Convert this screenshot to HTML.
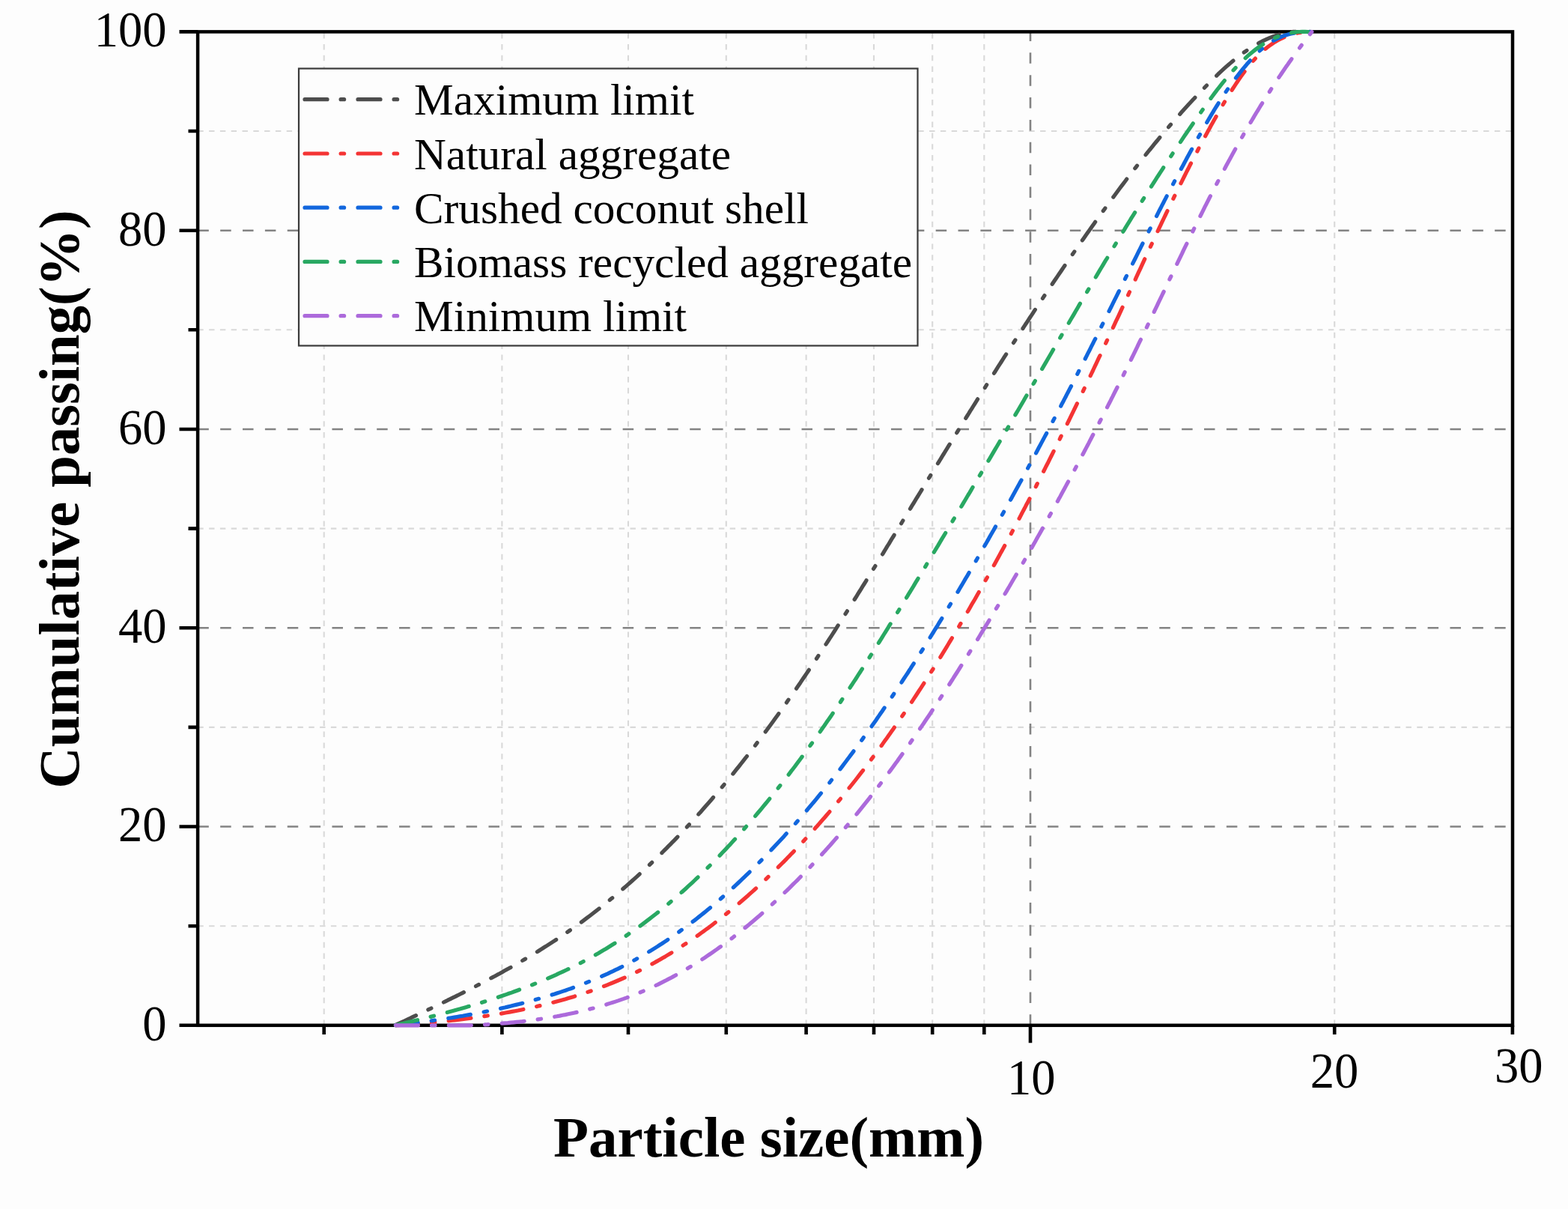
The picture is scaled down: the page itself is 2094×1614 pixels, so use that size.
<!DOCTYPE html><html><head><meta charset="utf-8"><title>Cumulative passing vs particle size</title><style>
html,body{margin:0;padding:0;background:#fdfdfd;}
body{width:2094px;height:1614px;overflow:hidden;position:relative;}
svg{position:absolute;left:0;top:0;filter:blur(0.45px);}
text{font-family:"Liberation Serif","Times New Roman",serif;fill:#000;}
</style></head><body>
<svg width="2094" height="1614" viewBox="0 0 2094 1614">
<rect x="0" y="0" width="2094" height="1614" fill="#fdfdfd"/>
<path d="M264.3,1236.2H2020.0M264.3,970.9H2020.0M264.3,705.6H2020.0M264.3,440.3H2020.0M264.3,175.0H2020.0" stroke="#d9d9d9" stroke-width="2.1" stroke-dasharray="7.4 7.4" fill="none"/>
<path d="M432.7,1368.8V42.4M670.4,1368.8V42.4M839.0,1368.8V42.4M969.8,1368.8V42.4M1076.6,1368.8V42.4M1167.0,1368.8V42.4M1245.2,1368.8V42.4M1314.3,1368.8V42.4M1782.2,1368.8V42.4" stroke="#d9d9d9" stroke-width="2.1" stroke-dasharray="7.4 7.4" fill="none"/>
<path d="M264.3,1103.5H2020.0M264.3,838.2H2020.0M264.3,573.0H2020.0M264.3,307.7H2020.0M1376.0,1368.8V42.4" stroke="#838383" stroke-width="2.6" stroke-dasharray="14.5 15.36" fill="none"/>
<rect x="264.1" y="42.4" width="1755.9" height="1326.4" fill="none" stroke="#000" stroke-width="4.5"/>
<path d="M239.5,1368.8H264.3M239.5,1103.5H264.3M239.5,838.2H264.3M239.5,573.0H264.3M239.5,307.7H264.3M239.5,42.4H264.3M251.5,1236.2H264.3M251.5,970.9H264.3M251.5,705.6H264.3M251.5,440.3H264.3M251.5,175.0H264.3M1376.0,1368.8V1392.3M432.7,1368.8V1381M670.4,1368.8V1381M839.0,1368.8V1381M969.8,1368.8V1381M1076.6,1368.8V1381M1167.0,1368.8V1381M1245.2,1368.8V1381M1314.3,1368.8V1381M1782.2,1368.8V1381M2019.9,1368.8V1381" stroke="#000" stroke-width="4.6" fill="none"/>
<path d="M527.5,1368.8 L530.9,1367.2 L534.3,1365.6 L537.6,1364.1 L541.0,1362.5 L544.4,1360.9 L547.8,1359.3 L551.1,1357.7 L554.5,1356.1 L557.9,1354.5 L561.3,1353.0 L564.6,1351.4 L568.0,1349.8 L571.3,1348.2 L574.7,1346.6 L578.1,1344.9 L581.4,1343.3 L584.8,1341.7 L588.1,1340.1 L591.4,1338.5 L594.8,1336.9 L598.1,1335.2 L601.4,1333.6 L604.8,1331.9 L608.1,1330.3 L611.4,1328.7 L614.7,1327.0 L618.1,1325.3 L621.4,1323.7 L624.7,1322.0 L628.0,1320.3 L631.3,1318.6 L634.5,1317.0 L637.8,1315.3 L641.1,1313.6 L644.4,1311.8 L647.7,1310.1 L650.9,1308.4 L654.2,1306.7 L657.4,1304.9 L660.7,1303.2 L663.9,1301.4 L667.2,1299.7 L670.4,1297.9 L673.6,1296.1 L676.8,1294.3 L680.1,1292.5 L683.3,1290.7 L686.5,1288.9 L689.7,1287.1 L692.9,1285.2 L696.0,1283.4 L699.2,1281.5 L702.4,1279.7 L705.5,1277.8 L708.7,1275.9 L711.8,1274.0 L715.0,1272.1 L718.1,1270.2 L721.2,1268.2 L724.3,1266.3 L727.4,1264.3 L730.5,1262.4 L733.6,1260.4 L736.7,1258.4 L739.8,1256.4 L742.9,1254.4 L745.9,1252.3 L749.0,1250.3 L752.0,1248.2 L755.0,1246.2 L758.1,1244.1 L761.1,1242.0 L764.1,1239.9 L767.1,1237.7 L770.1,1235.6 L773.0,1233.5 L776.0,1231.3 L779.0,1229.1 L781.9,1226.9 L784.9,1224.7 L787.8,1222.5 L790.7,1220.3 L793.6,1218.0 L796.5,1215.7 L799.4,1213.5 L802.3,1211.2 L805.2,1208.9 L808.1,1206.6 L810.9,1204.3 L813.8,1201.9 L816.6,1199.6 L819.5,1197.2 L822.3,1194.9 L825.1,1192.5 L827.9,1190.1 L830.7,1187.7 L833.5,1185.3 L836.3,1182.9 L839.1,1180.4 L841.8,1178.0 L844.6,1175.5 L847.3,1173.1 L850.1,1170.6 L852.8,1168.1 L855.5,1165.6 L858.3,1163.1 L861.0,1160.6 L863.7,1158.1 L866.3,1155.5 L869.0,1153.0 L871.7,1150.4 L874.4,1147.9 L877.0,1145.3 L879.6,1142.7 L882.3,1140.1 L884.9,1137.5 L887.5,1134.9 L890.1,1132.3 L892.7,1129.7 L895.3,1127.1 L897.9,1124.4 L900.5,1121.8 L903.1,1119.1 L905.6,1116.4 L908.2,1113.8 L910.7,1111.1 L913.3,1108.4 L915.8,1105.7 L918.3,1103.0 L920.8,1100.3 L923.3,1097.6 L925.8,1094.8 L928.3,1092.1 L930.8,1089.4 L933.2,1086.6 L935.7,1083.9 L938.2,1081.1 L940.6,1078.3 L943.0,1075.6 L945.5,1072.8 L947.9,1070.0 L950.3,1067.2 L952.7,1064.4 L955.1,1061.6 L957.5,1058.8 L959.9,1056.0 L962.3,1053.1 L964.6,1050.3 L967.0,1047.5 L969.4,1044.6 L971.7,1041.8 L974.0,1038.9 L976.4,1036.0 L978.7,1033.2 L981.0,1030.3 L983.3,1027.4 L985.7,1024.5 L988.0,1021.6 L990.2,1018.7 L992.5,1015.8 L994.8,1012.9 L997.1,1010.0 L999.4,1007.1 L1001.6,1004.2 L1003.9,1001.2 L1006.1,998.3 L1008.4,995.4 L1010.6,992.4 L1012.8,989.5 L1015.1,986.5 L1017.3,983.6 L1019.5,980.6 L1021.7,977.6 L1023.9,974.7 L1026.1,971.7 L1028.3,968.7 L1030.5,965.7 L1032.7,962.7 L1034.8,959.7 L1037.0,956.7 L1039.2,953.7 L1041.3,950.7 L1043.5,947.7 L1045.6,944.7 L1047.8,941.6 L1049.9,938.6 L1052.0,935.6 L1054.2,932.5 L1056.3,929.5 L1058.4,926.5 L1060.5,923.4 L1062.6,920.4 L1064.8,917.3 L1066.9,914.2 L1069.0,911.2 L1071.0,908.1 L1073.1,905.0 L1075.2,902.0 L1077.3,898.9 L1079.4,895.8 L1081.4,892.7 L1083.5,889.6 L1085.6,886.6 L1087.6,883.5 L1089.7,880.4 L1091.7,877.3 L1093.8,874.2 L1095.8,871.1 L1097.9,868.0 L1099.9,864.8 L1101.9,861.7 L1104.0,858.6 L1106.0,855.5 L1108.0,852.4 L1110.0,849.3 L1112.1,846.1 L1114.1,843.0 L1116.1,839.9 L1118.1,836.7 L1120.1,833.6 L1122.1,830.5 L1124.1,827.3 L1126.1,824.2 L1128.1,821.0 L1130.1,817.9 L1132.1,814.7 L1134.1,811.6 L1136.0,808.4 L1138.0,805.3 L1140.0,802.1 L1142.0,799.0 L1144.0,795.8 L1145.9,792.7 L1147.9,789.5 L1149.9,786.3 L1151.8,783.2 L1153.8,780.0 L1155.8,776.8 L1157.7,773.7 L1159.7,770.5 L1161.6,767.3 L1163.6,764.2 L1165.5,761.0 L1167.5,757.8 L1169.5,754.7 L1171.4,751.5 L1173.3,748.3 L1175.3,745.1 L1177.2,742.0 L1179.2,738.8 L1181.1,735.6 L1183.1,732.4 L1185.0,729.2 L1187.0,726.1 L1188.9,722.9 L1190.8,719.7 L1192.8,716.5 L1194.7,713.4 L1196.7,710.2 L1198.6,707.0 L1200.5,703.8 L1202.5,700.6 L1204.4,697.5 L1206.3,694.3 L1208.3,691.1 L1210.2,687.9 L1212.1,684.7 L1214.1,681.6 L1216.0,678.4 L1217.9,675.2 L1219.9,672.0 L1221.8,668.9 L1223.7,665.7 L1225.7,662.5 L1227.6,659.3 L1229.6,656.2 L1231.5,653.0 L1233.4,649.8 L1235.4,646.6 L1237.3,643.5 L1239.2,640.3 L1241.2,637.1 L1243.1,634.0 L1245.1,630.8 L1247.0,627.6 L1248.9,624.5 L1250.9,621.3 L1252.8,618.1 L1254.8,615.0 L1256.7,611.8 L1258.6,608.7 L1260.6,605.5 L1262.5,602.3 L1264.5,599.2 L1266.4,596.0 L1268.4,592.9 L1270.3,589.7 L1272.3,586.5 L1274.2,583.4 L1276.2,580.2 L1278.1,577.1 L1280.1,573.9 L1282.0,570.8 L1284.0,567.6 L1285.9,564.5 L1287.9,561.3 L1289.8,558.2 L1291.8,555.0 L1293.8,551.9 L1295.7,548.7 L1297.7,545.6 L1299.6,542.5 L1301.6,539.3 L1303.6,536.2 L1305.5,533.0 L1307.5,529.9 L1309.5,526.8 L1311.4,523.6 L1313.4,520.5 L1315.4,517.4 L1317.4,514.2 L1319.3,511.1 L1321.3,508.0 L1323.3,504.8 L1325.3,501.7 L1327.3,498.6 L1329.3,495.5 L1331.2,492.3 L1333.2,489.2 L1335.2,486.1 L1337.2,483.0 L1339.2,479.9 L1341.2,476.7 L1343.2,473.6 L1345.2,470.5 L1347.2,467.4 L1349.2,464.3 L1351.2,461.2 L1353.2,458.1 L1355.2,455.0 L1357.2,451.9 L1359.2,448.8 L1361.3,445.7 L1363.3,442.6 L1365.3,439.5 L1367.3,436.4 L1369.3,433.3 L1371.4,430.2 L1373.4,427.1 L1375.4,424.0 L1377.5,420.9 L1379.5,417.8 L1381.5,414.7 L1383.6,411.6 L1385.6,408.6 L1387.7,405.5 L1389.7,402.4 L1391.8,399.3 L1393.8,396.2 L1395.9,393.2 L1397.9,390.1 L1400.0,387.0 L1402.0,383.9 L1404.1,380.9 L1406.2,377.8 L1408.2,374.8 L1410.3,371.7 L1412.4,368.6 L1414.5,365.6 L1416.6,362.5 L1418.6,359.5 L1420.7,356.4 L1422.8,353.3 L1424.9,350.3 L1427.0,347.3 L1429.1,344.2 L1431.2,341.2 L1433.3,338.1 L1435.4,335.1 L1437.5,332.0 L1439.7,329.0 L1441.8,326.0 L1443.9,322.9 L1446.0,319.9 L1448.1,316.9 L1450.3,313.8 L1452.4,310.8 L1454.6,307.8 L1456.7,304.8 L1458.8,301.8 L1461.0,298.7 L1463.1,295.7 L1465.3,292.7 L1467.4,289.7 L1469.6,286.7 L1471.8,283.7 L1473.9,280.7 L1476.1,277.7 L1478.3,274.7 L1480.5,271.7 L1482.7,268.7 L1484.9,265.7 L1487.1,262.7 L1489.3,259.8 L1491.5,256.8 L1493.7,253.8 L1495.9,250.8 L1498.1,247.9 L1500.4,244.9 L1502.6,242.0 L1504.8,239.0 L1507.1,236.1 L1509.3,233.1 L1511.6,230.2 L1513.8,227.2 L1516.1,224.3 L1518.4,221.4 L1520.7,218.5 L1523.0,215.5 L1525.3,212.6 L1527.6,209.7 L1529.9,206.8 L1532.2,203.9 L1534.5,201.0 L1536.9,198.2 L1539.2,195.3 L1541.5,192.4 L1543.9,189.5 L1546.3,186.7 L1548.6,183.8 L1551.0,181.0 L1553.4,178.1 L1555.8,175.3 L1558.2,172.5 L1560.6,169.6 L1563.0,166.8 L1565.5,164.0 L1567.9,161.2 L1570.3,158.4 L1572.8,155.6 L1575.3,152.8 L1577.7,150.1 L1580.2,147.3 L1582.7,144.5 L1585.2,141.8 L1587.7,139.0 L1590.3,136.3 L1592.8,133.6 L1595.3,130.9 L1597.9,128.1 L1600.5,125.4 L1603.0,122.8 L1605.6,120.1 L1608.2,117.4 L1610.8,114.7 L1613.4,112.1 L1616.1,109.4 L1618.7,106.8 L1621.4,104.2 L1624.1,101.6 L1626.7,99.0 L1629.5,96.4 L1632.2,93.9 L1634.9,91.4 L1637.7,88.9 L1640.5,86.5 L1643.3,84.1 L1646.1,81.7 L1649.0,79.4 L1651.9,77.1 L1654.8,74.8 L1657.7,72.6 L1660.7,70.4 L1663.7,68.3 L1666.7,66.3 L1669.7,64.3 L1672.8,62.3 L1675.9,60.4 L1679.1,58.6 L1682.3,56.9 L1685.5,55.2 L1688.8,53.6 L1692.0,52.1 L1695.4,50.6 L1698.7,49.3 L1702.1,48.1 L1705.6,46.9 L1709.1,45.9 L1712.6,44.9 L1716.1,44.1 L1719.7,43.4 L1723.4,42.8 L1727.0,42.4 L1730.8,42.4 L1734.5,42.4 L1738.3,42.4 L1742.2,42.4 L1746.1,42.4 L1750.0,42.4" stroke="#4d4d4d" stroke-width="5.2" stroke-dasharray="30.0 18.1 4.5 18.4" stroke-dashoffset="-0.9" stroke-linecap="round" stroke-linejoin="round" fill="none"/>
<path d="M527.5,1368.8 L531.3,1368.6 L535.1,1368.3 L538.9,1368.0 L542.7,1367.8 L546.5,1367.5 L550.3,1367.2 L554.1,1366.9 L557.9,1366.6 L561.7,1366.3 L565.5,1366.0 L569.3,1365.7 L573.1,1365.3 L577.0,1365.0 L580.8,1364.6 L584.6,1364.2 L588.4,1363.9 L592.3,1363.5 L596.1,1363.1 L599.9,1362.7 L603.8,1362.2 L607.6,1361.8 L611.4,1361.4 L615.3,1360.9 L619.1,1360.4 L622.9,1360.0 L626.8,1359.5 L630.6,1359.0 L634.4,1358.4 L638.3,1357.9 L642.1,1357.4 L645.9,1356.8 L649.7,1356.2 L653.6,1355.6 L657.4,1355.0 L661.2,1354.4 L665.0,1353.8 L668.8,1353.2 L672.7,1352.5 L676.5,1351.8 L680.3,1351.1 L684.1,1350.4 L687.9,1349.7 L691.7,1349.0 L695.5,1348.2 L699.3,1347.4 L703.0,1346.6 L706.8,1345.8 L710.6,1345.0 L714.4,1344.2 L718.1,1343.3 L721.9,1342.4 L725.6,1341.5 L729.4,1340.6 L733.1,1339.7 L736.9,1338.7 L740.6,1337.7 L744.3,1336.7 L748.0,1335.7 L751.7,1334.7 L755.4,1333.7 L759.1,1332.6 L762.8,1331.5 L766.5,1330.4 L770.1,1329.2 L773.8,1328.1 L777.4,1326.9 L781.1,1325.7 L784.7,1324.5 L788.3,1323.2 L791.9,1322.0 L795.5,1320.7 L799.1,1319.4 L802.7,1318.0 L806.3,1316.7 L809.9,1315.3 L813.4,1313.9 L816.9,1312.5 L820.5,1311.0 L824.0,1309.5 L827.5,1308.0 L831.0,1306.5 L834.5,1305.0 L837.9,1303.4 L841.4,1301.8 L844.8,1300.2 L848.3,1298.5 L851.7,1296.8 L855.1,1295.1 L858.5,1293.4 L861.9,1291.7 L865.2,1289.9 L868.6,1288.1 L872.0,1286.3 L875.3,1284.4 L878.6,1282.6 L881.9,1280.7 L885.2,1278.8 L888.5,1276.9 L891.8,1274.9 L895.0,1273.0 L898.3,1271.0 L901.5,1269.0 L904.8,1266.9 L908.0,1264.9 L911.2,1262.8 L914.4,1260.7 L917.6,1258.6 L920.7,1256.5 L923.9,1254.3 L927.0,1252.1 L930.2,1250.0 L933.3,1247.8 L936.4,1245.5 L939.5,1243.3 L942.6,1241.0 L945.7,1238.8 L948.8,1236.5 L951.8,1234.2 L954.9,1231.8 L957.9,1229.5 L960.9,1227.1 L963.9,1224.8 L966.9,1222.4 L969.9,1220.0 L972.9,1217.6 L975.9,1215.1 L978.8,1212.7 L981.8,1210.2 L984.7,1207.8 L987.7,1205.3 L990.6,1202.8 L993.5,1200.3 L996.4,1197.7 L999.3,1195.2 L1002.1,1192.6 L1005.0,1190.1 L1007.9,1187.5 L1010.7,1184.9 L1013.5,1182.3 L1016.3,1179.7 L1019.2,1177.1 L1022.0,1174.4 L1024.7,1171.8 L1027.5,1169.1 L1030.3,1166.5 L1033.1,1163.8 L1035.8,1161.1 L1038.5,1158.4 L1041.3,1155.7 L1044.0,1153.0 L1046.7,1150.3 L1049.4,1147.6 L1052.1,1144.8 L1054.8,1142.1 L1057.4,1139.3 L1060.1,1136.6 L1062.8,1133.8 L1065.4,1131.0 L1068.0,1128.2 L1070.6,1125.4 L1073.3,1122.6 L1075.9,1119.8 L1078.5,1117.0 L1081.0,1114.2 L1083.6,1111.3 L1086.2,1108.5 L1088.7,1105.6 L1091.3,1102.8 L1093.8,1099.9 L1096.3,1097.0 L1098.9,1094.1 L1101.4,1091.2 L1103.9,1088.3 L1106.4,1085.4 L1108.9,1082.5 L1111.3,1079.6 L1113.8,1076.7 L1116.3,1073.7 L1118.7,1070.8 L1121.2,1067.8 L1123.6,1064.9 L1126.0,1061.9 L1128.4,1058.9 L1130.8,1056.0 L1133.2,1053.0 L1135.6,1050.0 L1138.0,1047.0 L1140.4,1044.0 L1142.8,1041.0 L1145.1,1038.0 L1147.5,1034.9 L1149.8,1031.9 L1152.2,1028.9 L1154.5,1025.8 L1156.8,1022.8 L1159.1,1019.7 L1161.4,1016.7 L1163.7,1013.6 L1166.0,1010.5 L1168.3,1007.4 L1170.6,1004.3 L1172.8,1001.3 L1175.1,998.2 L1177.4,995.1 L1179.6,991.9 L1181.8,988.8 L1184.1,985.7 L1186.3,982.6 L1188.5,979.5 L1190.7,976.3 L1192.9,973.2 L1195.1,970.0 L1197.3,966.9 L1199.5,963.7 L1201.7,960.6 L1203.9,957.4 L1206.0,954.2 L1208.2,951.1 L1210.3,947.9 L1212.5,944.7 L1214.6,941.5 L1216.7,938.3 L1218.9,935.1 L1221.0,931.9 L1223.1,928.7 L1225.2,925.5 L1227.3,922.3 L1229.4,919.1 L1231.5,915.9 L1233.6,912.6 L1235.7,909.4 L1237.7,906.2 L1239.8,902.9 L1241.8,899.7 L1243.9,896.4 L1246.0,893.2 L1248.0,889.9 L1250.0,886.7 L1252.1,883.4 L1254.1,880.2 L1256.1,876.9 L1258.1,873.6 L1260.1,870.3 L1262.1,867.1 L1264.1,863.8 L1266.1,860.5 L1268.1,857.2 L1270.1,853.9 L1272.1,850.6 L1274.1,847.4 L1276.0,844.1 L1278.0,840.8 L1280.0,837.5 L1281.9,834.2 L1283.9,830.9 L1285.8,827.5 L1287.8,824.2 L1289.7,820.9 L1291.6,817.6 L1293.6,814.3 L1295.5,811.0 L1297.4,807.6 L1299.3,804.3 L1301.3,801.0 L1303.2,797.7 L1305.1,794.3 L1307.0,791.0 L1308.9,787.7 L1310.8,784.3 L1312.6,781.0 L1314.5,777.7 L1316.4,774.3 L1318.3,771.0 L1320.1,767.6 L1322.0,764.3 L1323.9,760.9 L1325.7,757.6 L1327.6,754.2 L1329.4,750.9 L1331.3,747.5 L1333.1,744.2 L1335.0,740.8 L1336.8,737.4 L1338.7,734.1 L1340.5,730.7 L1342.3,727.4 L1344.1,724.0 L1345.9,720.6 L1347.8,717.2 L1349.6,713.9 L1351.4,710.5 L1353.2,707.1 L1355.0,703.7 L1356.8,700.4 L1358.6,697.0 L1360.4,693.6 L1362.2,690.2 L1363.9,686.8 L1365.7,683.4 L1367.5,680.0 L1369.3,676.6 L1371.0,673.2 L1372.8,669.9 L1374.6,666.5 L1376.3,663.1 L1378.1,659.7 L1379.9,656.3 L1381.6,652.9 L1383.4,649.5 L1385.1,646.0 L1386.8,642.6 L1388.6,639.2 L1390.3,635.8 L1392.1,632.4 L1393.8,629.0 L1395.5,625.6 L1397.2,622.2 L1399.0,618.8 L1400.7,615.3 L1402.4,611.9 L1404.1,608.5 L1405.8,605.1 L1407.5,601.7 L1409.2,598.2 L1411.0,594.8 L1412.7,591.4 L1414.4,588.0 L1416.0,584.5 L1417.7,581.1 L1419.4,577.7 L1421.1,574.2 L1422.8,570.8 L1424.5,567.4 L1426.2,563.9 L1427.9,560.5 L1429.5,557.1 L1431.2,553.6 L1432.9,550.2 L1434.6,546.7 L1436.2,543.3 L1437.9,539.8 L1439.6,536.4 L1441.2,533.0 L1442.9,529.5 L1444.5,526.1 L1446.2,522.6 L1447.8,519.2 L1449.5,515.7 L1451.1,512.3 L1452.8,508.8 L1454.4,505.4 L1456.1,501.9 L1457.7,498.5 L1459.4,495.0 L1461.0,491.5 L1462.6,488.1 L1464.3,484.6 L1465.9,481.2 L1467.5,477.7 L1469.2,474.3 L1470.8,470.8 L1472.4,467.3 L1474.1,463.9 L1475.7,460.4 L1477.3,456.9 L1478.9,453.5 L1480.6,450.0 L1482.2,446.5 L1483.8,443.1 L1485.4,439.6 L1487.0,436.1 L1488.6,432.7 L1490.2,429.2 L1491.9,425.7 L1493.5,422.3 L1495.1,418.8 L1496.7,415.3 L1498.3,411.9 L1499.9,408.4 L1501.5,404.9 L1503.1,401.4 L1504.7,398.0 L1506.3,394.5 L1507.9,391.0 L1509.5,387.5 L1511.1,384.1 L1512.7,380.6 L1514.3,377.1 L1515.9,373.7 L1517.5,370.2 L1519.1,366.7 L1520.7,363.2 L1522.3,359.8 L1523.9,356.3 L1525.5,352.8 L1527.1,349.3 L1528.7,345.9 L1530.3,342.4 L1531.9,338.9 L1533.6,335.5 L1535.2,332.0 L1536.8,328.5 L1538.4,325.1 L1540.0,321.6 L1541.6,318.1 L1543.3,314.7 L1544.9,311.2 L1546.5,307.8 L1548.1,304.3 L1549.8,300.8 L1551.4,297.4 L1553.1,293.9 L1554.7,290.5 L1556.4,287.0 L1558.0,283.6 L1559.7,280.1 L1561.3,276.7 L1563.0,273.2 L1564.7,269.8 L1566.3,266.4 L1568.0,262.9 L1569.7,259.5 L1571.4,256.1 L1573.1,252.6 L1574.7,249.2 L1576.4,245.8 L1578.2,242.4 L1579.9,238.9 L1581.6,235.5 L1583.3,232.1 L1585.0,228.7 L1586.8,225.3 L1588.5,221.9 L1590.2,218.5 L1592.0,215.1 L1593.8,211.7 L1595.5,208.3 L1597.3,204.9 L1599.1,201.5 L1600.8,198.1 L1602.6,194.7 L1604.4,191.3 L1606.2,188.0 L1608.1,184.6 L1609.9,181.2 L1611.7,177.9 L1613.5,174.5 L1615.4,171.2 L1617.2,167.8 L1619.1,164.5 L1621.0,161.1 L1622.9,157.8 L1624.7,154.4 L1626.6,151.1 L1628.5,147.8 L1630.5,144.5 L1632.4,141.1 L1634.3,137.8 L1636.3,134.6 L1638.3,131.3 L1640.3,128.0 L1642.3,124.7 L1644.3,121.5 L1646.4,118.3 L1648.5,115.1 L1650.6,111.9 L1652.7,108.7 L1654.9,105.6 L1657.1,102.4 L1659.3,99.3 L1661.6,96.2 L1663.9,93.1 L1666.2,90.1 L1668.6,87.1 L1671.0,84.1 L1673.5,81.2 L1676.1,78.4 L1678.7,75.6 L1681.5,72.8 L1684.2,70.2 L1687.1,67.6 L1690.0,65.1 L1693.0,62.8 L1696.1,60.5 L1699.2,58.3 L1702.4,56.2 L1705.7,54.3 L1709.0,52.5 L1712.4,50.8 L1715.9,49.2 L1719.4,47.8 L1723.0,46.6 L1726.7,45.5 L1730.4,44.6 L1734.2,43.8 L1738.1,43.2 L1742.0,42.8 L1746.0,42.6 L1750.0,42.6" stroke="#f43434" stroke-width="5.2" stroke-dasharray="30.0 18.1 4.5 18.4" stroke-dashoffset="-0.9" stroke-linecap="round" stroke-linejoin="round" fill="none"/>
<path d="M527.5,1368.8 L531.3,1368.4 L535.0,1367.9 L538.7,1367.5 L542.5,1367.1 L546.3,1366.6 L550.0,1366.1 L553.8,1365.7 L557.5,1365.2 L561.3,1364.7 L565.1,1364.2 L568.8,1363.7 L572.6,1363.2 L576.4,1362.7 L580.1,1362.1 L583.9,1361.6 L587.7,1361.0 L591.5,1360.5 L595.2,1359.9 L599.0,1359.3 L602.8,1358.7 L606.6,1358.1 L610.3,1357.5 L614.1,1356.8 L617.9,1356.2 L621.7,1355.5 L625.4,1354.9 L629.2,1354.2 L633.0,1353.5 L636.7,1352.8 L640.5,1352.1 L644.3,1351.3 L648.0,1350.6 L651.8,1349.8 L655.5,1349.1 L659.3,1348.3 L663.0,1347.5 L666.8,1346.7 L670.5,1345.8 L674.3,1345.0 L678.0,1344.1 L681.7,1343.2 L685.4,1342.3 L689.2,1341.4 L692.9,1340.5 L696.6,1339.6 L700.3,1338.6 L704.0,1337.6 L707.7,1336.7 L711.4,1335.7 L715.1,1334.6 L718.7,1333.6 L722.4,1332.5 L726.1,1331.5 L729.7,1330.4 L733.4,1329.2 L737.0,1328.1 L740.7,1327.0 L744.3,1325.8 L747.9,1324.6 L751.5,1323.4 L755.1,1322.2 L758.7,1320.9 L762.3,1319.7 L765.9,1318.4 L769.5,1317.1 L773.0,1315.8 L776.6,1314.4 L780.1,1313.0 L783.7,1311.6 L787.2,1310.2 L790.7,1308.8 L794.2,1307.4 L797.7,1305.9 L801.2,1304.4 L804.6,1302.9 L808.1,1301.3 L811.6,1299.8 L815.0,1298.2 L818.4,1296.6 L821.8,1294.9 L825.2,1293.3 L828.6,1291.6 L832.0,1289.9 L835.4,1288.1 L838.7,1286.4 L842.0,1284.6 L845.4,1282.8 L848.7,1281.0 L852.0,1279.1 L855.3,1277.3 L858.5,1275.4 L861.8,1273.5 L865.1,1271.5 L868.3,1269.6 L871.5,1267.6 L874.7,1265.6 L877.9,1263.6 L881.1,1261.5 L884.3,1259.5 L887.5,1257.4 L890.6,1255.3 L893.8,1253.1 L896.9,1251.0 L900.0,1248.8 L903.1,1246.7 L906.2,1244.5 L909.3,1242.2 L912.4,1240.0 L915.4,1237.8 L918.5,1235.5 L921.5,1233.2 L924.5,1230.9 L927.6,1228.6 L930.6,1226.2 L933.5,1223.9 L936.5,1221.5 L939.5,1219.1 L942.5,1216.7 L945.4,1214.3 L948.3,1211.9 L951.3,1209.4 L954.2,1206.9 L957.1,1204.5 L960.0,1202.0 L962.8,1199.5 L965.7,1196.9 L968.6,1194.4 L971.4,1191.9 L974.3,1189.3 L977.1,1186.7 L979.9,1184.2 L982.7,1181.6 L985.5,1179.0 L988.3,1176.3 L991.1,1173.7 L993.8,1171.1 L996.6,1168.4 L999.3,1165.8 L1002.1,1163.1 L1004.8,1160.4 L1007.5,1157.7 L1010.2,1155.0 L1012.9,1152.3 L1015.6,1149.6 L1018.3,1146.9 L1020.9,1144.1 L1023.6,1141.4 L1026.2,1138.6 L1028.9,1135.9 L1031.5,1133.1 L1034.1,1130.3 L1036.7,1127.5 L1039.3,1124.8 L1041.9,1122.0 L1044.5,1119.2 L1047.1,1116.4 L1049.6,1113.5 L1052.2,1110.7 L1054.7,1107.9 L1057.2,1105.0 L1059.8,1102.2 L1062.3,1099.4 L1064.8,1096.5 L1067.3,1093.6 L1069.8,1090.8 L1072.3,1087.9 L1074.7,1085.0 L1077.2,1082.1 L1079.6,1079.2 L1082.1,1076.3 L1084.5,1073.4 L1087.0,1070.5 L1089.4,1067.6 L1091.8,1064.6 L1094.2,1061.7 L1096.6,1058.8 L1099.0,1055.8 L1101.4,1052.9 L1103.7,1049.9 L1106.1,1047.0 L1108.5,1044.0 L1110.8,1041.0 L1113.2,1038.0 L1115.5,1035.0 L1117.8,1032.1 L1120.1,1029.1 L1122.5,1026.1 L1124.8,1023.1 L1127.1,1020.0 L1129.4,1017.0 L1131.6,1014.0 L1133.9,1011.0 L1136.2,1007.9 L1138.5,1004.9 L1140.7,1001.9 L1143.0,998.8 L1145.2,995.8 L1147.4,992.7 L1149.7,989.6 L1151.9,986.6 L1154.1,983.5 L1156.3,980.4 L1158.5,977.3 L1160.7,974.3 L1162.9,971.2 L1165.1,968.1 L1167.3,965.0 L1169.5,961.9 L1171.6,958.8 L1173.8,955.6 L1175.9,952.5 L1178.1,949.4 L1180.2,946.3 L1182.4,943.2 L1184.5,940.0 L1186.6,936.9 L1188.8,933.8 L1190.9,930.6 L1193.0,927.5 L1195.1,924.3 L1197.2,921.2 L1199.3,918.0 L1201.4,914.8 L1203.5,911.7 L1205.5,908.5 L1207.6,905.3 L1209.7,902.1 L1211.8,899.0 L1213.8,895.8 L1215.9,892.6 L1217.9,889.4 L1220.0,886.2 L1222.0,883.0 L1224.1,879.8 L1226.1,876.6 L1228.1,873.4 L1230.1,870.2 L1232.2,867.0 L1234.2,863.8 L1236.2,860.6 L1238.2,857.4 L1240.2,854.1 L1242.2,850.9 L1244.2,847.7 L1246.2,844.5 L1248.2,841.2 L1250.2,838.0 L1252.2,834.8 L1254.1,831.5 L1256.1,828.3 L1258.1,825.1 L1260.1,821.8 L1262.0,818.6 L1264.0,815.3 L1266.0,812.1 L1267.9,808.8 L1269.9,805.6 L1271.8,802.3 L1273.8,799.1 L1275.7,795.8 L1277.7,792.5 L1279.6,789.3 L1281.5,786.0 L1283.5,782.7 L1285.4,779.5 L1287.3,776.2 L1289.2,772.9 L1291.2,769.7 L1293.1,766.4 L1295.0,763.1 L1296.9,759.8 L1298.8,756.6 L1300.7,753.3 L1302.6,750.0 L1304.5,746.7 L1306.4,743.4 L1308.3,740.2 L1310.2,736.9 L1312.1,733.6 L1314.0,730.3 L1315.9,727.0 L1317.8,723.7 L1319.7,720.4 L1321.5,717.1 L1323.4,713.8 L1325.3,710.5 L1327.2,707.2 L1329.0,703.9 L1330.9,700.6 L1332.8,697.3 L1334.6,694.0 L1336.5,690.7 L1338.3,687.3 L1340.2,684.0 L1342.0,680.7 L1343.9,677.4 L1345.7,674.1 L1347.6,670.8 L1349.4,667.4 L1351.3,664.1 L1353.1,660.8 L1354.9,657.5 L1356.8,654.1 L1358.6,650.8 L1360.4,647.5 L1362.2,644.1 L1364.1,640.8 L1365.9,637.5 L1367.7,634.1 L1369.5,630.8 L1371.3,627.5 L1373.1,624.1 L1374.9,620.8 L1376.7,617.4 L1378.6,614.1 L1380.4,610.7 L1382.2,607.4 L1384.0,604.0 L1385.7,600.7 L1387.5,597.3 L1389.3,594.0 L1391.1,590.6 L1392.9,587.3 L1394.7,583.9 L1396.5,580.5 L1398.3,577.2 L1400.0,573.8 L1401.8,570.5 L1403.6,567.1 L1405.4,563.7 L1407.1,560.4 L1408.9,557.0 L1410.7,553.6 L1412.4,550.3 L1414.2,546.9 L1416.0,543.5 L1417.7,540.1 L1419.5,536.8 L1421.2,533.4 L1423.0,530.0 L1424.7,526.6 L1426.5,523.2 L1428.2,519.9 L1430.0,516.5 L1431.7,513.1 L1433.5,509.7 L1435.2,506.3 L1437.0,502.9 L1438.7,499.5 L1440.4,496.1 L1442.2,492.8 L1443.9,489.4 L1445.6,486.0 L1447.4,482.6 L1449.1,479.2 L1450.8,475.8 L1452.5,472.4 L1454.3,469.0 L1456.0,465.6 L1457.7,462.2 L1459.4,458.8 L1461.1,455.4 L1462.9,452.0 L1464.6,448.5 L1466.3,445.1 L1468.0,441.7 L1469.7,438.3 L1471.4,434.9 L1473.1,431.5 L1474.8,428.1 L1476.5,424.7 L1478.2,421.2 L1479.9,417.8 L1481.6,414.4 L1483.3,411.0 L1485.0,407.6 L1486.7,404.2 L1488.4,400.7 L1490.1,397.3 L1491.8,393.9 L1493.5,390.5 L1495.2,387.1 L1496.9,383.6 L1498.6,380.2 L1500.3,376.8 L1502.0,373.4 L1503.7,369.9 L1505.4,366.5 L1507.1,363.1 L1508.8,359.7 L1510.5,356.3 L1512.2,352.8 L1513.9,349.4 L1515.6,346.0 L1517.3,342.6 L1519.0,339.2 L1520.7,335.7 L1522.4,332.3 L1524.1,328.9 L1525.8,325.5 L1527.6,322.1 L1529.3,318.7 L1531.0,315.2 L1532.7,311.8 L1534.4,308.4 L1536.1,305.0 L1537.9,301.6 L1539.6,298.2 L1541.3,294.8 L1543.0,291.4 L1544.8,288.0 L1546.5,284.6 L1548.2,281.2 L1550.0,277.8 L1551.7,274.4 L1553.5,271.0 L1555.2,267.6 L1557.0,264.2 L1558.7,260.8 L1560.5,257.4 L1562.2,254.1 L1564.0,250.7 L1565.8,247.3 L1567.6,243.9 L1569.3,240.6 L1571.1,237.2 L1572.9,233.8 L1574.7,230.4 L1576.5,227.1 L1578.3,223.7 L1580.1,220.4 L1581.9,217.0 L1583.7,213.7 L1585.5,210.3 L1587.3,207.0 L1589.2,203.6 L1591.0,200.3 L1592.8,196.9 L1594.7,193.6 L1596.5,190.3 L1598.4,187.0 L1600.2,183.6 L1602.1,180.3 L1604.0,177.0 L1605.8,173.7 L1607.7,170.4 L1609.6,167.1 L1611.5,163.8 L1613.4,160.5 L1615.4,157.2 L1617.3,153.9 L1619.3,150.7 L1621.2,147.4 L1623.2,144.2 L1625.2,141.0 L1627.2,137.8 L1629.3,134.6 L1631.3,131.4 L1633.4,128.2 L1635.5,125.0 L1637.6,121.9 L1639.8,118.7 L1642.0,115.6 L1644.2,112.5 L1646.4,109.5 L1648.7,106.4 L1650.9,103.4 L1653.3,100.4 L1655.6,97.4 L1658.0,94.4 L1660.4,91.4 L1662.9,88.5 L1665.3,85.6 L1667.9,82.7 L1670.4,79.9 L1673.0,77.0 L1675.7,74.3 L1678.3,71.6 L1681.1,68.9 L1683.9,66.4 L1686.8,63.9 L1689.7,61.6 L1692.8,59.3 L1695.8,57.2 L1699.0,55.2 L1702.2,53.4 L1705.5,51.7 L1708.9,50.1 L1712.3,48.6 L1715.8,47.3 L1719.3,46.2 L1723.0,45.2 L1726.7,44.4 L1730.5,43.8 L1734.3,43.3 L1738.2,42.9 L1742.1,42.7 L1746.1,42.6 L1750.0,42.6" stroke="#1166dd" stroke-width="5.2" stroke-dasharray="30.0 18.1 4.5 18.4" stroke-dashoffset="-0.9" stroke-linecap="round" stroke-linejoin="round" fill="none"/>
<path d="M527.5,1368.8 L531.1,1368.0 L534.8,1367.1 L538.4,1366.3 L542.0,1365.4 L545.6,1364.6 L549.3,1363.7 L552.9,1362.9 L556.6,1362.0 L560.2,1361.1 L563.8,1360.2 L567.5,1359.3 L571.1,1358.4 L574.7,1357.5 L578.4,1356.5 L582.0,1355.6 L585.7,1354.7 L589.3,1353.7 L593.0,1352.7 L596.6,1351.8 L600.2,1350.8 L603.9,1349.8 L607.5,1348.8 L611.1,1347.8 L614.8,1346.8 L618.4,1345.7 L622.0,1344.7 L625.7,1343.6 L629.3,1342.6 L632.9,1341.5 L636.5,1340.4 L640.1,1339.3 L643.7,1338.2 L647.3,1337.1 L651.0,1335.9 L654.5,1334.8 L658.1,1333.6 L661.7,1332.4 L665.3,1331.2 L668.9,1330.0 L672.5,1328.8 L676.0,1327.6 L679.6,1326.3 L683.2,1325.1 L686.7,1323.8 L690.3,1322.5 L693.8,1321.2 L697.3,1319.9 L700.9,1318.6 L704.4,1317.2 L707.9,1315.8 L711.4,1314.5 L714.9,1313.1 L718.4,1311.7 L721.9,1310.2 L725.4,1308.8 L728.8,1307.3 L732.3,1305.8 L735.7,1304.3 L739.2,1302.8 L742.6,1301.3 L746.0,1299.7 L749.4,1298.2 L752.8,1296.6 L756.2,1295.0 L759.6,1293.4 L763.0,1291.7 L766.3,1290.1 L769.7,1288.4 L773.0,1286.7 L776.4,1285.0 L779.7,1283.2 L783.0,1281.5 L786.3,1279.7 L789.5,1277.9 L792.8,1276.1 L796.1,1274.2 L799.3,1272.4 L802.5,1270.5 L805.8,1268.6 L809.0,1266.7 L812.2,1264.7 L815.3,1262.8 L818.5,1260.8 L821.7,1258.8 L824.8,1256.8 L827.9,1254.7 L831.0,1252.7 L834.1,1250.6 L837.2,1248.5 L840.3,1246.4 L843.4,1244.3 L846.4,1242.1 L849.5,1240.0 L852.5,1237.8 L855.6,1235.6 L858.6,1233.4 L861.6,1231.1 L864.5,1228.9 L867.5,1226.6 L870.5,1224.3 L873.4,1222.0 L876.4,1219.7 L879.3,1217.4 L882.2,1215.0 L885.1,1212.7 L888.0,1210.3 L890.9,1207.9 L893.8,1205.5 L896.6,1203.1 L899.5,1200.6 L902.3,1198.2 L905.2,1195.7 L908.0,1193.2 L910.8,1190.7 L913.6,1188.2 L916.4,1185.7 L919.1,1183.2 L921.9,1180.6 L924.7,1178.1 L927.4,1175.5 L930.1,1172.9 L932.9,1170.3 L935.6,1167.7 L938.3,1165.1 L941.0,1162.5 L943.6,1159.8 L946.3,1157.2 L949.0,1154.5 L951.6,1151.9 L954.3,1149.2 L956.9,1146.5 L959.5,1143.8 L962.1,1141.1 L964.7,1138.3 L967.3,1135.6 L969.9,1132.9 L972.5,1130.1 L975.0,1127.4 L977.6,1124.6 L980.1,1121.8 L982.6,1119.0 L985.2,1116.2 L987.7,1113.4 L990.2,1110.6 L992.7,1107.8 L995.2,1105.0 L997.6,1102.2 L1000.1,1099.3 L1002.6,1096.5 L1005.0,1093.6 L1007.5,1090.8 L1009.9,1087.9 L1012.3,1085.0 L1014.7,1082.2 L1017.1,1079.3 L1019.5,1076.4 L1021.9,1073.5 L1024.3,1070.6 L1026.7,1067.7 L1029.0,1064.8 L1031.4,1061.9 L1033.7,1059.0 L1036.1,1056.0 L1038.4,1053.1 L1040.7,1050.2 L1043.0,1047.2 L1045.3,1044.3 L1047.6,1041.3 L1049.9,1038.4 L1052.2,1035.4 L1054.5,1032.4 L1056.7,1029.4 L1059.0,1026.5 L1061.3,1023.5 L1063.5,1020.5 L1065.7,1017.5 L1068.0,1014.5 L1070.2,1011.5 L1072.4,1008.5 L1074.6,1005.5 L1076.8,1002.5 L1079.0,999.4 L1081.2,996.4 L1083.4,993.4 L1085.6,990.3 L1087.8,987.3 L1089.9,984.3 L1092.1,981.2 L1094.3,978.2 L1096.4,975.1 L1098.5,972.0 L1100.7,969.0 L1102.8,965.9 L1104.9,962.8 L1107.1,959.8 L1109.2,956.7 L1111.3,953.6 L1113.4,950.5 L1115.5,947.4 L1117.6,944.3 L1119.7,941.2 L1121.8,938.1 L1123.8,935.0 L1125.9,931.9 L1128.0,928.8 L1130.1,925.7 L1132.1,922.6 L1134.2,919.5 L1136.2,916.3 L1138.3,913.2 L1140.3,910.1 L1142.4,907.0 L1144.4,903.8 L1146.4,900.7 L1148.5,897.5 L1150.5,894.4 L1152.5,891.3 L1154.5,888.1 L1156.5,885.0 L1158.5,881.8 L1160.5,878.6 L1162.5,875.5 L1164.5,872.3 L1166.5,869.2 L1168.5,866.0 L1170.5,862.8 L1172.5,859.7 L1174.5,856.5 L1176.5,853.3 L1178.5,850.1 L1180.4,847.0 L1182.4,843.8 L1184.4,840.6 L1186.4,837.4 L1188.3,834.2 L1190.3,831.1 L1192.2,827.9 L1194.2,824.7 L1196.2,821.5 L1198.1,818.3 L1200.1,815.1 L1202.0,811.9 L1204.0,808.7 L1205.9,805.5 L1207.9,802.3 L1209.8,799.1 L1211.8,795.9 L1213.7,792.7 L1215.7,789.5 L1217.6,786.3 L1219.6,783.1 L1221.5,779.9 L1223.4,776.7 L1225.4,773.5 L1227.3,770.3 L1229.2,767.1 L1231.2,763.9 L1233.1,760.7 L1235.1,757.5 L1237.0,754.3 L1238.9,751.1 L1240.9,747.8 L1242.8,744.6 L1244.7,741.4 L1246.7,738.2 L1248.6,735.0 L1250.5,731.8 L1252.5,728.6 L1254.4,725.4 L1256.3,722.2 L1258.2,718.9 L1260.2,715.7 L1262.1,712.5 L1264.0,709.3 L1266.0,706.1 L1267.9,702.9 L1269.8,699.6 L1271.7,696.4 L1273.6,693.2 L1275.6,690.0 L1277.5,686.8 L1279.4,683.6 L1281.3,680.3 L1283.3,677.1 L1285.2,673.9 L1287.1,670.7 L1289.0,667.5 L1290.9,664.2 L1292.8,661.0 L1294.8,657.8 L1296.7,654.6 L1298.6,651.3 L1300.5,648.1 L1302.4,644.9 L1304.3,641.7 L1306.2,638.4 L1308.1,635.2 L1310.1,632.0 L1312.0,628.8 L1313.9,625.5 L1315.8,622.3 L1317.7,619.1 L1319.6,615.8 L1321.5,612.6 L1323.4,609.4 L1325.3,606.2 L1327.2,602.9 L1329.1,599.7 L1331.0,596.5 L1332.9,593.2 L1334.8,590.0 L1336.7,586.8 L1338.6,583.5 L1340.5,580.3 L1342.4,577.1 L1344.3,573.8 L1346.2,570.6 L1348.1,567.4 L1350.0,564.1 L1351.9,560.9 L1353.7,557.7 L1355.6,554.4 L1357.5,551.2 L1359.4,548.0 L1361.3,544.7 L1363.2,541.5 L1365.1,538.2 L1367.0,535.0 L1368.8,531.8 L1370.7,528.5 L1372.6,525.3 L1374.5,522.0 L1376.4,518.8 L1378.3,515.6 L1380.1,512.3 L1382.0,509.1 L1383.9,505.9 L1385.8,502.6 L1387.7,499.4 L1389.5,496.1 L1391.4,492.9 L1393.3,489.7 L1395.2,486.4 L1397.1,483.2 L1398.9,480.0 L1400.8,476.7 L1402.7,473.5 L1404.6,470.2 L1406.4,467.0 L1408.3,463.8 L1410.2,460.5 L1412.1,457.3 L1414.0,454.1 L1415.8,450.8 L1417.7,447.6 L1419.6,444.4 L1421.5,441.1 L1423.4,437.9 L1425.3,434.7 L1427.1,431.5 L1429.0,428.2 L1430.9,425.0 L1432.8,421.8 L1434.7,418.6 L1436.6,415.3 L1438.5,412.1 L1440.3,408.9 L1442.2,405.7 L1444.1,402.5 L1446.0,399.2 L1447.9,396.0 L1449.8,392.8 L1451.7,389.6 L1453.6,386.4 L1455.5,383.2 L1457.4,380.0 L1459.3,376.8 L1461.2,373.5 L1463.1,370.3 L1465.0,367.1 L1466.9,363.9 L1468.8,360.7 L1470.7,357.5 L1472.6,354.3 L1474.5,351.1 L1476.4,347.9 L1478.4,344.8 L1480.3,341.6 L1482.2,338.4 L1484.1,335.2 L1486.0,332.0 L1488.0,328.8 L1489.9,325.6 L1491.8,322.5 L1493.7,319.3 L1495.7,316.1 L1497.6,312.9 L1499.5,309.8 L1501.5,306.6 L1503.4,303.4 L1505.4,300.2 L1507.3,297.1 L1509.3,293.9 L1511.2,290.7 L1513.2,287.6 L1515.2,284.4 L1517.1,281.3 L1519.1,278.1 L1521.1,274.9 L1523.0,271.8 L1525.0,268.6 L1527.0,265.5 L1529.0,262.3 L1531.0,259.2 L1533.0,256.0 L1535.0,252.9 L1537.0,249.7 L1539.0,246.6 L1541.0,243.5 L1543.0,240.3 L1545.0,237.2 L1547.1,234.0 L1549.1,230.9 L1551.1,227.8 L1553.2,224.6 L1555.2,221.5 L1557.3,218.4 L1559.3,215.2 L1561.4,212.1 L1563.5,209.0 L1565.5,205.8 L1567.6,202.7 L1569.7,199.6 L1571.8,196.4 L1573.9,193.3 L1576.0,190.2 L1578.1,187.1 L1580.2,183.9 L1582.3,180.8 L1584.4,177.7 L1586.6,174.6 L1588.7,171.5 L1590.9,168.3 L1593.0,165.2 L1595.2,162.1 L1597.3,159.0 L1599.5,155.9 L1601.7,152.8 L1603.9,149.6 L1606.1,146.5 L1608.3,143.4 L1610.5,140.3 L1612.7,137.2 L1614.9,134.1 L1617.2,131.0 L1619.4,128.0 L1621.7,124.9 L1624.0,121.9 L1626.3,118.8 L1628.7,115.8 L1631.0,112.9 L1633.4,109.9 L1635.8,107.0 L1638.2,104.1 L1640.6,101.2 L1643.1,98.3 L1645.6,95.5 L1648.1,92.7 L1650.6,90.0 L1653.2,87.3 L1655.8,84.6 L1658.5,82.0 L1661.2,79.4 L1663.9,76.9 L1666.6,74.4 L1669.4,72.0 L1672.2,69.7 L1675.1,67.4 L1678.0,65.1 L1681.0,63.0 L1684.0,60.9 L1687.0,58.9 L1690.1,57.0 L1693.2,55.2 L1696.4,53.5 L1699.7,51.9 L1702.9,50.4 L1706.3,49.0 L1709.7,47.7 L1713.1,46.6 L1716.7,45.5 L1720.2,44.7 L1723.9,43.9 L1727.6,43.3 L1731.3,42.8 L1735.1,42.5 L1739.0,42.4 L1743.0,42.4 L1747.0,42.5" stroke="#28a862" stroke-width="5.2" stroke-dasharray="30.0 18.1 4.5 18.4" stroke-dashoffset="-0.9" stroke-linecap="round" stroke-linejoin="round" fill="none"/>
<path d="M527.5,1368.7 L531.3,1368.8 L535.1,1368.8 L538.9,1368.8 L542.7,1368.8 L546.5,1368.8 L550.4,1368.8 L554.2,1368.8 L558.0,1368.8 L561.9,1368.8 L565.7,1368.8 L569.5,1368.8 L573.4,1368.8 L577.2,1368.8 L581.1,1368.8 L585.0,1368.8 L588.8,1368.8 L592.7,1368.8 L596.6,1368.8 L600.5,1368.8 L604.3,1368.8 L608.2,1368.8 L612.1,1368.8 L616.0,1368.8 L619.9,1368.8 L623.8,1368.8 L627.6,1368.8 L631.5,1368.7 L635.4,1368.5 L639.3,1368.3 L643.2,1368.1 L647.1,1367.9 L651.0,1367.7 L654.9,1367.4 L658.8,1367.1 L662.6,1366.9 L666.5,1366.6 L670.4,1366.2 L674.3,1365.9 L678.2,1365.6 L682.1,1365.2 L685.9,1364.8 L689.8,1364.4 L693.7,1364.0 L697.6,1363.6 L701.4,1363.1 L705.3,1362.6 L709.1,1362.1 L713.0,1361.6 L716.8,1361.1 L720.7,1360.5 L724.5,1359.9 L728.4,1359.3 L732.2,1358.7 L736.0,1358.1 L739.8,1357.4 L743.7,1356.8 L747.5,1356.1 L751.3,1355.3 L755.1,1354.6 L758.8,1353.8 L762.6,1353.0 L766.4,1352.2 L770.2,1351.4 L773.9,1350.5 L777.7,1349.6 L781.4,1348.7 L785.1,1347.8 L788.9,1346.8 L792.6,1345.9 L796.3,1344.8 L800.0,1343.8 L803.7,1342.8 L807.4,1341.7 L811.0,1340.6 L814.7,1339.4 L818.3,1338.3 L822.0,1337.1 L825.6,1335.9 L829.2,1334.6 L832.8,1333.4 L836.4,1332.1 L840.0,1330.7 L843.5,1329.4 L847.1,1328.0 L850.6,1326.6 L854.2,1325.1 L857.7,1323.7 L861.2,1322.2 L864.7,1320.7 L868.1,1319.1 L871.6,1317.5 L875.1,1315.9 L878.5,1314.3 L881.9,1312.6 L885.3,1310.9 L888.7,1309.2 L892.1,1307.4 L895.5,1305.7 L898.8,1303.9 L902.2,1302.0 L905.5,1300.2 L908.8,1298.3 L912.1,1296.4 L915.4,1294.5 L918.7,1292.5 L922.0,1290.6 L925.3,1288.6 L928.5,1286.6 L931.7,1284.5 L934.9,1282.5 L938.2,1280.4 L941.4,1278.3 L944.5,1276.2 L947.7,1274.0 L950.9,1271.8 L954.0,1269.7 L957.1,1267.5 L960.3,1265.2 L963.4,1263.0 L966.5,1260.7 L969.6,1258.4 L972.6,1256.1 L975.7,1253.8 L978.8,1251.5 L981.8,1249.1 L984.8,1246.8 L987.8,1244.4 L990.8,1242.0 L993.8,1239.5 L996.8,1237.1 L999.8,1234.7 L1002.7,1232.2 L1005.7,1229.7 L1008.6,1227.2 L1011.5,1224.7 L1014.5,1222.2 L1017.4,1219.6 L1020.2,1217.1 L1023.1,1214.5 L1026.0,1212.0 L1028.8,1209.4 L1031.7,1206.8 L1034.5,1204.2 L1037.4,1201.5 L1040.2,1198.9 L1043.0,1196.3 L1045.8,1193.6 L1048.5,1191.0 L1051.3,1188.3 L1054.1,1185.6 L1056.8,1182.9 L1059.5,1180.2 L1062.3,1177.5 L1065.0,1174.8 L1067.7,1172.0 L1070.4,1169.3 L1073.1,1166.6 L1075.8,1163.8 L1078.4,1161.0 L1081.1,1158.3 L1083.7,1155.5 L1086.4,1152.7 L1089.0,1149.9 L1091.6,1147.1 L1094.2,1144.3 L1096.8,1141.4 L1099.4,1138.6 L1102.0,1135.8 L1104.5,1132.9 L1107.1,1130.1 L1109.6,1127.2 L1112.2,1124.3 L1114.7,1121.4 L1117.2,1118.5 L1119.7,1115.6 L1122.3,1112.7 L1124.8,1109.8 L1127.2,1106.9 L1129.7,1104.0 L1132.2,1101.0 L1134.6,1098.1 L1137.1,1095.1 L1139.5,1092.2 L1142.0,1089.2 L1144.4,1086.3 L1146.8,1083.3 L1149.2,1080.3 L1151.6,1077.3 L1154.0,1074.3 L1156.4,1071.3 L1158.8,1068.3 L1161.2,1065.3 L1163.6,1062.2 L1165.9,1059.2 L1168.3,1056.2 L1170.6,1053.1 L1172.9,1050.1 L1175.3,1047.0 L1177.6,1044.0 L1179.9,1040.9 L1182.2,1037.8 L1184.5,1034.7 L1186.8,1031.7 L1189.1,1028.6 L1191.4,1025.5 L1193.6,1022.4 L1195.9,1019.3 L1198.2,1016.2 L1200.4,1013.0 L1202.7,1009.9 L1204.9,1006.8 L1207.1,1003.7 L1209.4,1000.5 L1211.6,997.4 L1213.8,994.2 L1216.0,991.1 L1218.2,987.9 L1220.4,984.8 L1222.6,981.6 L1224.8,978.4 L1227.0,975.3 L1229.1,972.1 L1231.3,968.9 L1233.5,965.7 L1235.6,962.5 L1237.8,959.3 L1239.9,956.2 L1242.1,953.0 L1244.2,949.7 L1246.3,946.5 L1248.5,943.3 L1250.6,940.1 L1252.7,936.9 L1254.8,933.7 L1256.9,930.4 L1259.0,927.2 L1261.1,924.0 L1263.2,920.8 L1265.3,917.5 L1267.4,914.3 L1269.5,911.0 L1271.6,907.8 L1273.6,904.5 L1275.7,901.3 L1277.8,898.0 L1279.8,894.8 L1281.9,891.5 L1283.9,888.3 L1286.0,885.0 L1288.0,881.7 L1290.1,878.5 L1292.1,875.2 L1294.1,871.9 L1296.2,868.7 L1298.2,865.4 L1300.2,862.1 L1302.3,858.8 L1304.3,855.6 L1306.3,852.3 L1308.3,849.0 L1310.3,845.7 L1312.3,842.4 L1314.3,839.1 L1316.3,835.8 L1318.3,832.6 L1320.3,829.3 L1322.3,826.0 L1324.3,822.7 L1326.3,819.4 L1328.3,816.1 L1330.2,812.8 L1332.2,809.5 L1334.2,806.2 L1336.1,802.9 L1338.1,799.5 L1340.1,796.2 L1342.0,792.9 L1344.0,789.6 L1345.9,786.3 L1347.9,783.0 L1349.8,779.7 L1351.8,776.3 L1353.7,773.0 L1355.7,769.7 L1357.6,766.4 L1359.5,763.0 L1361.4,759.7 L1363.4,756.4 L1365.3,753.0 L1367.2,749.7 L1369.1,746.4 L1371.0,743.0 L1373.0,739.7 L1374.9,736.3 L1376.8,733.0 L1378.7,729.7 L1380.6,726.3 L1382.5,723.0 L1384.3,719.6 L1386.2,716.3 L1388.1,712.9 L1390.0,709.6 L1391.9,706.2 L1393.8,702.8 L1395.6,699.5 L1397.5,696.1 L1399.4,692.8 L1401.2,689.4 L1403.1,686.0 L1405.0,682.7 L1406.8,679.3 L1408.7,675.9 L1410.5,672.5 L1412.4,669.2 L1414.2,665.8 L1416.1,662.4 L1417.9,659.0 L1419.8,655.6 L1421.6,652.3 L1423.4,648.9 L1425.2,645.5 L1427.1,642.1 L1428.9,638.7 L1430.7,635.3 L1432.5,631.9 L1434.4,628.5 L1436.2,625.1 L1438.0,621.7 L1439.8,618.3 L1441.6,614.9 L1443.4,611.5 L1445.2,608.1 L1447.0,604.7 L1448.8,601.3 L1450.6,597.9 L1452.4,594.5 L1454.2,591.1 L1455.9,587.7 L1457.7,584.3 L1459.5,580.8 L1461.3,577.4 L1463.0,574.0 L1464.8,570.6 L1466.6,567.1 L1468.3,563.7 L1470.1,560.3 L1471.9,556.9 L1473.6,553.4 L1475.4,550.0 L1477.1,546.6 L1478.9,543.1 L1480.6,539.7 L1482.4,536.3 L1484.1,532.8 L1485.9,529.4 L1487.6,525.9 L1489.3,522.5 L1491.1,519.0 L1492.8,515.6 L1494.5,512.1 L1496.2,508.7 L1498.0,505.2 L1499.7,501.8 L1501.4,498.3 L1503.1,494.9 L1504.8,491.4 L1506.5,487.9 L1508.3,484.5 L1510.0,481.0 L1511.7,477.5 L1513.4,474.1 L1515.1,470.6 L1516.8,467.1 L1518.5,463.7 L1520.1,460.2 L1521.8,456.7 L1523.5,453.2 L1525.2,449.8 L1526.9,446.3 L1528.6,442.8 L1530.2,439.3 L1531.9,435.8 L1533.6,432.3 L1535.3,428.9 L1536.9,425.4 L1538.6,421.9 L1540.3,418.4 L1541.9,414.9 L1543.6,411.4 L1545.3,407.9 L1546.9,404.4 L1548.6,400.9 L1550.3,397.4 L1551.9,394.0 L1553.6,390.5 L1555.3,387.0 L1556.9,383.5 L1558.6,380.0 L1560.3,376.5 L1561.9,373.0 L1563.6,369.5 L1565.3,366.0 L1566.9,362.5 L1568.6,359.0 L1570.3,355.5 L1571.9,352.1 L1573.6,348.6 L1575.3,345.1 L1577.0,341.6 L1578.7,338.1 L1580.3,334.6 L1582.0,331.1 L1583.7,327.7 L1585.4,324.2 L1587.1,320.7 L1588.8,317.2 L1590.5,313.7 L1592.2,310.3 L1593.9,306.8 L1595.6,303.3 L1597.3,299.9 L1599.0,296.4 L1600.7,292.9 L1602.4,289.5 L1604.2,286.0 L1605.9,282.6 L1607.6,279.1 L1609.3,275.6 L1611.1,272.2 L1612.8,268.8 L1614.6,265.3 L1616.3,261.9 L1618.1,258.4 L1619.9,255.0 L1621.6,251.6 L1623.4,248.1 L1625.2,244.7 L1627.0,241.3 L1628.8,237.9 L1630.6,234.5 L1632.4,231.1 L1634.2,227.6 L1636.0,224.2 L1637.8,220.8 L1639.6,217.5 L1641.5,214.1 L1643.3,210.7 L1645.2,207.3 L1647.0,203.9 L1648.9,200.5 L1650.8,197.2 L1652.6,193.8 L1654.5,190.5 L1656.4,187.1 L1658.3,183.8 L1660.2,180.4 L1662.2,177.1 L1664.1,173.7 L1666.0,170.4 L1668.0,167.1 L1669.9,163.8 L1671.9,160.5 L1673.9,157.1 L1675.8,153.8 L1677.8,150.5 L1679.8,147.3 L1681.8,144.0 L1683.8,140.7 L1685.9,137.4 L1687.9,134.2 L1690.0,130.9 L1692.0,127.6 L1694.1,124.4 L1696.2,121.2 L1698.3,117.9 L1700.4,114.7 L1702.5,111.5 L1704.6,108.3 L1706.7,105.1 L1708.9,101.9 L1711.0,98.7 L1713.2,95.5 L1715.4,92.3 L1717.5,89.1 L1719.8,86.0 L1722.0,82.8 L1724.2,79.7 L1726.4,76.5 L1728.7,73.4 L1730.9,70.3 L1733.2,67.1 L1735.5,64.0 L1737.8,60.9 L1740.1,57.8 L1742.5,54.8 L1744.8,51.7 L1747.2,48.6 L1749.5,45.6 L1751.9,42.5" stroke="#ac6adb" stroke-width="5.2" stroke-dasharray="30.0 18.1 4.5 18.4" stroke-dashoffset="-0.9" stroke-linecap="round" stroke-linejoin="round" fill="none"/>
<rect x="399" y="91.5" width="826.5" height="370" fill="#fdfdfd" stroke="#3a3a3a" stroke-width="2.2"/>
<path d="M407,132.7H531" stroke="#4d4d4d" stroke-width="5.2" stroke-dasharray="30.0 18.1 4.5 18.4" stroke-linecap="round" fill="none"/>
<text x="553" y="153.3" font-size="59.3">Maximum limit</text>
<path d="M407,205.0H531" stroke="#f43434" stroke-width="5.2" stroke-dasharray="30.0 18.1 4.5 18.4" stroke-linecap="round" fill="none"/>
<text x="553" y="225.6" font-size="59.3">Natural aggregate</text>
<path d="M407,277.2H531" stroke="#1166dd" stroke-width="5.2" stroke-dasharray="30.0 18.1 4.5 18.4" stroke-linecap="round" fill="none"/>
<text x="553" y="297.8" font-size="59.3">Crushed coconut shell</text>
<path d="M407,349.4H531" stroke="#28a862" stroke-width="5.2" stroke-dasharray="30.0 18.1 4.5 18.4" stroke-linecap="round" fill="none"/>
<text x="553" y="370.1" font-size="59.3">Biomass recycled aggregate</text>
<path d="M407,421.7H531" stroke="#ac6adb" stroke-width="5.2" stroke-dasharray="30.0 18.1 4.5 18.4" stroke-linecap="round" fill="none"/>
<text x="553" y="442.3" font-size="59.3">Minimum limit</text>
<text transform="translate(222.6,1388.6) scale(0.95,1)" font-size="68" text-anchor="end">0</text>
<text transform="translate(222.6,1123.3) scale(0.95,1)" font-size="68" text-anchor="end">20</text>
<text transform="translate(222.6,858.0) scale(0.95,1)" font-size="68" text-anchor="end">40</text>
<text transform="translate(222.6,592.8) scale(0.95,1)" font-size="68" text-anchor="end">60</text>
<text transform="translate(222.6,327.5) scale(0.95,1)" font-size="68" text-anchor="end">80</text>
<text transform="translate(222.6,62.2) scale(0.95,1)" font-size="68" text-anchor="end">100</text>
<text transform="translate(1377.2,1460.6) scale(0.95,1)" font-size="68" text-anchor="middle">10</text>
<text transform="translate(1782,1452.2) scale(0.95,1)" font-size="68" text-anchor="middle">20</text>
<text transform="translate(2028.2,1445.2) scale(0.95,1)" font-size="68" text-anchor="middle">30</text>
<text x="739" y="1544" font-size="77" font-weight="bold">Particle size(mm)</text>
<text transform="translate(104.7,1052.8) rotate(-90)" x="0" y="0" font-size="76.6" font-weight="bold">Cumulative passing(%)</text>
</svg></body></html>
